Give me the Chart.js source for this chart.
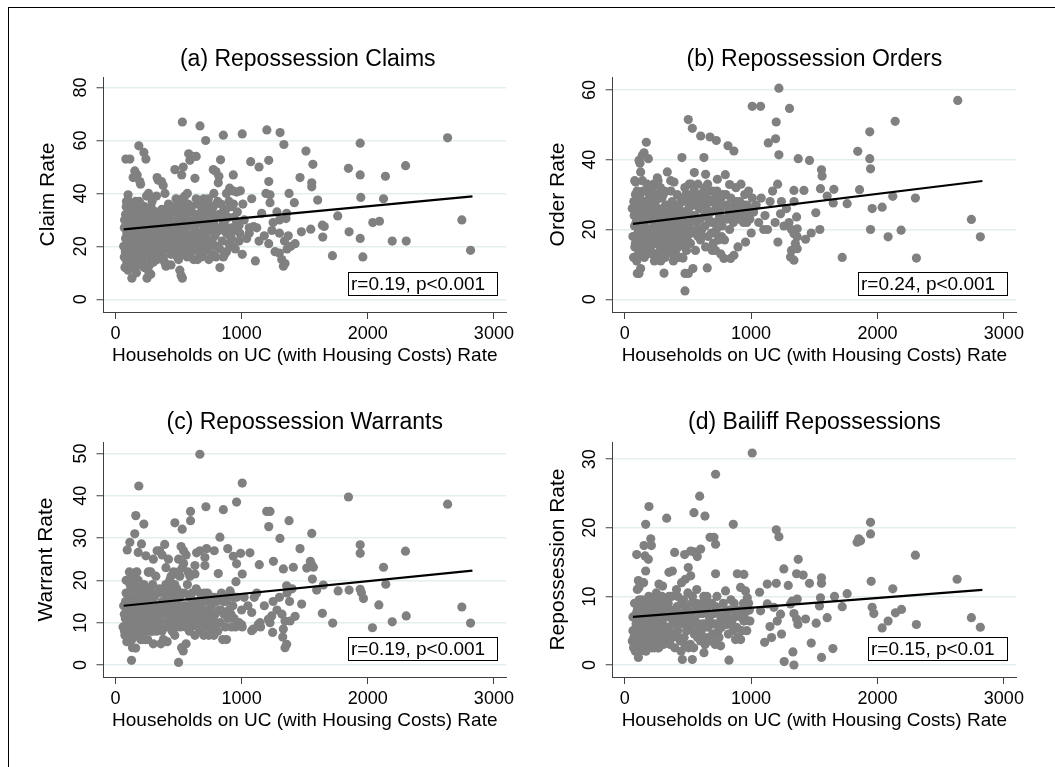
<!DOCTYPE html>
<html><head><meta charset="utf-8">
<script src="https://cdn.jsdelivr.net/npm/chart.js@4.4.0/dist/chart.umd.min.js"></script>
<style>
html,body{margin:0;padding:0;background:#fff;overflow:hidden;width:1055px;height:767px;position:relative;}
#frame{position:absolute;left:8px;top:7px;width:1200px;height:900px;border-top:1px solid #000;border-left:1px solid #000;}
canvas{position:absolute;}
</style></head><body>
<div id="frame"></div>
<canvas id="ca" width="600" height="380" style="left:8px;top:10px"></canvas>
<canvas id="cb" width="589" height="380" style="left:520px;top:10px"></canvas>
<canvas id="cc" width="600" height="380" style="left:8px;top:375px"></canvas>
<canvas id="cd" width="589" height="380" style="left:520px;top:375px"></canvas>
<script>
// ---------- data ----------
const xTicks = [0, 1000, 2000, 3000];
const claimTicks = [0, 20, 40, 60, 80];
const orderTicks = [0, 20, 40, 60];
const warrantTicks = [0, 10, 20, 30, 40, 50];
const repoTicks = [0, 10, 20, 30];

const panelTitles = ['(a) Repossession Claims', '(b) Repossession Orders', '(c) Repossession Warrants', '(d) Bailiff Repossessions'];
const yTitles = ['Claim Rate', 'Order Rate', 'Warrant Rate', 'Repossession Rate'];
const xTitle = 'Households on UC (with Housing Costs) Rate';
const stats = ['r=0.19, p<0.001', 'r=0.24, p<0.001', 'r=0.19, p<0.001', 'r=0.15, p<0.01'];

// fitted line end points (x at min / max of data)
const fitX = [65, 2830];
const claimFit = [26.4, 38.9];
const orderFit = [21.6, 33.9];
const warrantFit = [14.0, 22.3];
const repoFit = [7.0, 10.95];

const claims = [
[530,67],[670,65.5],[715,60],[855,62],[1005,62.5],[1200,64],[1305,63],[1335,58.5],[2633,61],[1940,59],
[1510,56],[1565,51],[1847,49.5],[1940,47],[2300,50.5],[2140,46.5],[1463,46],[1215,52.5],[1138,50],[1072,52],
[185,58],[225,55.5],[241,53],[82,53],[114,53],[580,55],[610,54],[640,54],[590,52.5],[537,50],
[471,49],[525,47],[630,45.7],[833,52.7],[775,49],[796,48.3],[820,46.5],[934,47],[153,48.5],[172,47],
[140,46],[193,44.5],[199,43.5],[330,46],[365,44.5],[378,43],[339,45],[815,44],[1215,44.5],[1556,44],[1556,42.5],
[100,39.5],[87,37],[114,35],[262,40],[246,39],[392,40],[325,39],[1080,38],[1193,40],[1225,39.5],
[1225,36.5],[1376,40],[1418,36.5],[1603,37.5],[1945,38.5],[2125,38],[905,42],[930,41],[960,40.5],[990,41],
[880,40],[900,37],[935,36],[1010,36],[530,38],[550,39],[570,40],[505,37],[600,35],[640,38],
[665,37],[700,38],[720,35],[740,36],[780,40],[810,37],[160,37],[200,36],[230,35],[290,37],
[420,36],[455,35],[480,38],[520,34],[150,35],[180,33],[210,34],[130,32],
[1159,32.5],[1357,32.5],[1352,30.5],[1762,31.5],[2040,29],[2093,29.5],[2746,30],[1280,33],[1300,30],[1250,29],
[1095,27.5],[1120,27],[1060,27],[940,31],[960,29],[980,28],[920,27],[1020,30],[850,33],[870,30],
[840,27],[880,25],[800,31],[760,33],[740,29],[700,31],[680,29],[720,27],[650,32],[620,30],
[600,28],[580,33],[560,31],[540,29],[520,26],[500,31],[480,28],[460,33],[440,30],[420,28],
[400,25],[380,31],[360,29],[340,26],[320,33],[300,30],[280,28],[260,26],[240,31],[220,29],
[200,27],[180,30],[160,28],[140,26],[120,30],[100,28],[80,32],[70,27],[90,25],[110,33],
[130,25],[150,31],[170,26],[190,33],[210,24],[250,33],[270,25],[310,24],[350,32],[390,27],
[430,25],[470,26],[510,33],[550,26],[590,24],[630,26],[670,24],[710,25],[750,26],[790,24],
[820,26],[1640,28],[1655,27.5],[1548,26.5],[1474,25.5],[1852,25.5],
[1940,23],[1961,16],[1720,16.5],[1643,23.5],[1424,21],[2194,22],[2305,22],[2815,18.5],[1109,14.5],[1005,17],
[1138,22],[1215,21],[1265,18],[1318,15],[1331,12.5],[1344,13.5],[1299,17.5],[1340,22],[1370,24],[1390,20],
[1360,19],[1300,25],[1240,26],[1180,24],[855,16],[880,18],[900,21],[920,23],[950,19],[980,22],
[1040,23],[1060,25],[800,20],[770,17],[740,15],[720,19],[700,21],[680,16],[660,18],[640,22],
[620,15],[600,18],[580,20],[560,23],[540,17],[520,20],[500,15],[480,18],[460,22],[440,17],
[420,20],[400,23],[380,16],[360,19],[340,22],[320,17],[300,14],[280,19],[260,22],[240,17],
[220,20],[200,23],[180,16],[160,19],[140,22],[120,17],[100,20],[80,23],[70,16],[90,18],
[110,14],[130,21],[150,15],[170,23],[190,18],[210,14],[230,21],[250,16],[270,13],[290,21],
[310,18],[330,15],[350,20],[370,23],[390,14],[410,19],[450,21],[490,16],[530,19],[570,16],
[610,20],[650,15],[690,17],[730,21],
[75,12],[100,11],[130,8],[250,8],[280,9.5],[265,10],[400,12.5],[510,11],[520,9],[530,8],
[828,12],[90,14],[160,13],[200,13],[440,13],
[65,20],[72,30],[78,18],[85,35],[92,29],[98,16],[104,24],[108,37],[116,27],[122,21],
[127,34],[134,18],[138,29],[144,12],[148,24],[156,33],[162,22],[166,10],[174,30],[178,19],
[184,26],[188,37],[196,21],[204,31],[208,17],[214,28],[218,35],[224,24],[228,12],[234,27],
[238,19],[244,34],[248,23],[256,29],[262,18],[268,32],[274,21],[282,35],[288,26],[294,17],
[302,22],[306,33],[314,28],[318,20],[324,24],[336,30],[344,18],[356,25],[368,34],[376,21],
[386,19],[396,30],[404,34],[414,24],[424,32],[436,22],[446,27],[458,19],[466,29],[476,23],
[486,34],[496,25],[506,20],[516,29],[526,23],[536,35],[546,21],[556,27],[566,18],[576,36],
[586,29],[596,22],[606,33],[616,25],[626,19],[636,28],[646,36],[656,23],[664,30],[676,20],
[686,34],[696,26],[706,18],[716,32],[726,23],[736,38],[746,20],[756,30],[766,22],[776,35],
[786,28],[796,16],[806,26],[816,32],[826,19],[836,36],[846,22],[856,29],[866,17],[876,34],
[886,27],[896,31],[906,24],[916,35],[926,20],[946,26],[966,33],[986,25]
];

const orders = [
[1220,60.5],[1009,55.3],[1075,55.3],[1304,54.7],[2635,57],[2140,51],[1199,50.8],[503,51.5],[535,49],[601,46.8],
[675,46.5],[725,45.5],[817,44],[864,42.5],[1136,44.8],[1194,46],[1220,41.4],[1373,40.3],[1462,39.8],[1939,48],
[1939,40.3],[1945,37.4],[1844,42.4],[1557,37.1],[1562,35.3],[1549,31.7],[1655,31.5],[1858,31.4],[2121,29.5],[2300,29],
[1958,26],[2037,26.4],[1760,27.4],[1650,27.6],[1602,29.6],[1512,24.8],[1544,20],[1945,20],[2084,17.9],[2187,19.8],
[2743,22.9],[2814,17.9],[2308,11.8],[1721,12],[1212,16.4],[1233,24.5],[1339,31.2],[1418,31.2],[1360,23.6],[1365,20.2],
[1339,18.8],[1365,17.9],[1431,17.2],[1312,12.1],[1339,11.2],[1320,14],[1365,14.5],[1476,19],[453,40.6],[627,40.6],
[551,36.3],[640,35.8],[733,34.4],[796,35.7],[830,32.9],[461,11.8],[477,7.4],[503,7.4],[477,2.4],[540,8.8],
[653,9],[311,7.5],[113,7.4],[100,7.4],[126,8.8],[785,11.7],[838,11.7],[864,12.6],[896,15],[956,16.4],
[1001,19],[693,14],[719,14],
[171,45],[153,42],[140,41.3],[113,39.8],[121,39],[187,40.3],[126,36.5],[140,34],[87,33.6],[79,34],
[337,36.5],[258,34.8],[264,34],[364,34],[390,33.6],[60,26],[75,24],[90,22],[100,26],[110,20],
[120,18],[130,23],[140,16],[150,28],[160,21],[170,25],[180,14],[190,19],[200,23],[210,26],
[220,17],[230,21],[240,13],[250,24],[260,18],[270,29],[280,15],[290,22],[300,20],[310,25],
[320,12],[330,18],[340,23],[350,16],[360,27],[370,20],[380,13],[390,24],[400,18],[410,21],
[420,15],[430,26],[440,19],[450,12],[460,23],[470,17],[480,20],[490,14],[500,28],[70,12],
[80,15],[95,11],[105,17],[115,13],[135,19],[155,12],[165,17],[185,27],[195,30],[205,15],
[215,32],[225,28],[235,11],[245,20],[255,30],[275,25],[285,11],[295,29],[305,14],[315,31],
[325,21],[345,27],[355,14],[365,31],[375,23],[385,11],[395,16],[405,26],[415,30],[425,12],
[435,22],[445,29],[455,18],[465,25],[475,15],[485,30],[495,21],[85,30],[125,28],[145,24],
[175,31],[300,26],[260,16],[340,19],[420,24],
[510,33],[520,30],[530,27],[540,24],[550,31],[560,28],[570,22],[580,33],[590,26],[600,30],
[610,20],[620,27],[630,24],[640,32],[650,29],[660,18],[670,31],[680,25],[690,22],[700,28],
[710,19],[720,26],[730,31],[740,17],[750,24],[760,29],[770,21],[780,27],[790,17],[800,30],
[810,23],[820,26],[830,20],[840,29],[850,24],[860,22],[870,27],[880,32],[890,25],[900,23],
[910,28],[920,33],[930,26],[940,22],[950,30],[960,24],[970,27],[980,31],[990,23],[1010,29],
[1020,25],[1040,27],[1060,22],[1080,29],[1100,20],[1110,24],[1130,20],[1150,28],[1170,31],[1190,22],
[1210,33],[1240,28],[1260,21],[1280,26],[1300,22],[1320,20],[1340,28],[1350,16],[520,16],[560,14],
[600,17],[640,15],[700,16],[760,13],[520,20],[580,18],
[65,18],[72,28],[78,21],[84,16],[92,25],[98,31],[104,19],[108,14],[116,23],[122,30],
[128,17],[134,26],[138,21],[144,31],[148,14],[156,24],[162,28],[168,13],[174,20],[178,33],
[184,23],[188,16],[196,26],[204,20],[208,29],[214,13],[218,24],[224,19],[228,33],[234,25],
[238,16],[244,28],[248,21],[256,13],[262,26],[268,22],[274,17],[282,32],[288,19],[294,24],
[302,16],[306,30],[314,22],[318,18],[324,27],[336,15],[344,25],[356,21],[368,17],[376,28],
[386,20],[396,25],[404,14],[414,27],[424,20],[436,17],[446,24],[458,28],[466,20],[476,32],
[486,25],[496,18],[506,26],[516,22],[526,33],[536,19],[546,27],[556,24],[566,30],[576,20],
[586,27],[596,23],[606,29],[616,18],[626,31],[636,21],[646,26],[656,33],[664,23],[676,28],
[686,19],[696,31],[706,22],[716,29],[726,20],[736,27],[746,23],[756,26],[766,18],[776,30],
[786,23],[806,27],[826,24],[846,26],[866,23],[886,28],[906,26],[926,24],[946,27],[966,22],[986,26]
];

const warrants = [
[669,49.8],[1005,43],[185,42.3],[1847,39.7],[2633,38],[960,38.5],[717,37.4],[855,36.7],[595,36.3],[595,34.1],
[471,33.6],[529,32.1],[161,35.3],[225,33.3],[153,31],[114,29],[93,27.2],[206,28.6],[180,26.6],[241,25.8],
[262,21.9],[159,21.9],[1199,36.3],[1225,36.3],[1215,32.7],[1376,34.1],[1304,29.9],[1556,31.1],[1463,27.5],[1252,24.5],
[1140,23.7],[1066,26.5],[992,26.4],[934,25.7],[890,27.5],[828,30.2],[815,21.6],[783,27],[722,27.5],[669,27],
[643,26.5],[709,25.4],[709,23.5],[630,23.5],[630,21.5],[960,23.9],[1005,21.5],[955,19.7],[908,17.5],[1331,22.7],
[1410,23.1],[1357,18.7],[1545,24.5],[1556,23.7],[1569,23.1],[1516,22.9],[1561,20.3],[1595,17.7],[1648,18.9],[1765,17.5],
[1852,17.7],[1940,17.9],[1950,17.1],[1966,15.7],[1940,28.4],[1940,26.4],[2125,23.1],[2143,19.1],[2299,26.9],[2088,14.2],
[2194,10.2],[2305,11.6],[2037,8.8],[1722,9.9],[1640,12.2],[2746,13.7],[2815,9.9],[1476,14.4],[1424,11.5],[1384,10.4],
[1344,10.4],[1331,8.5],[1344,4.1],[1357,4.9],[1326,6.6],[1246,7.7],[1225,10],[1212,10.8],[1238,11.6],[1146,10],
[1133,9.6],[1093,8.5],[1080,8.1],[1080,12.4],[1005,9],[127,1.1],[500,0.6],[524,4.1],[537,3.3],[135,4.1],
[60,9],[70,12],[75,7],[80,15],[85,20],[90,5.5],[95,10],[100,17],[105,13],[110,8],
[115,19],[120,11],[125,15],[130,6],[135,21],[140,13],[145,9],[150,16],[155,11],[160,18],
[165,7],[170,14],[175,12],[180,20],[185,9],[190,16],[195,13],[200,10],[205,17],[210,14],
[215,6],[220,12],[225,19],[230,15],[235,8],[240,13],[245,17],[250,11],[255,6],[260,14],
[265,10],[270,18],[275,12],[280,8],[285,15],[290,11],[295,19],[300,13],[310,17],[320,9],
[330,14],[340,12],[350,18],[360,10],[370,15],[380,6],[390,13],[400,19],[410,9],[420,16],
[430,11],[440,14],[450,8],[460,17],[470,12],[480,15],[490,9],[500,22],[510,13],[520,17],
[530,10],[540,24],[550,14],[560,11],[570,19],[580,13],[590,16],[600,9],[610,12],[620,15],
[630,7],[640,18],[650,11],[660,14],[670,17],[680,8],[690,12],[700,15],[710,10],[720,13],
[730,17],[740,7],[750,11],[760,14],[770,9],[780,16],[790,12],[800,15],[810,8],[820,13],
[830,10],[840,17],[850,6],[860,12],[870,9],[880,15],[890,11],[900,13],[910,17],[920,9],
[930,14],[940,11],[960,16],[980,10],[1000,13],[1020,16],[1050,14],[1100,16],[1120,17],[1150,9],
[1180,14],[1250,15],[1280,13],[1300,16],[1320,12],[1360,17],[1380,15],[1400,18],
[350,27],[370,26],[390,28.5],[400,23],[420,25],[440,21],[460,22],[480,21.5],[500,25],[520,28],
[540,27],[560,26],[575,22],[590,21],[530,23],[510,21],[470,19],[430,20],[280,22],[300,25],
[320,21],[330,27],[260,22],[110,22],[130,20.5],[150,21],[170,22],
[160,4],[200,6],[300,5],[360,5],[410,5.5],[470,7],[560,5],[700,7],[780,7],[880,6],[950,9],[1000,9.5],
[65,14],[72,8],[78,11],[84,17],[92,13],[98,7],[104,15],[108,10],[116,13],[122,18],
[128,9],[134,15],[138,11],[144,19],[148,7],[156,14],[162,10],[168,16],[174,9],[178,13],
[184,18],[188,11],[196,7],[204,15],[208,12],[214,18],[218,9],[224,14],[228,11],[234,17],
[238,6],[244,11],[248,15],[256,13],[262,9],[268,16],[274,10],[282,13],[288,17],[294,8],
[302,10],[306,16],[314,12],[318,14],[324,8],[336,17],[344,10],[356,13],[368,8],[376,12],
[386,17],[396,10],[404,14],[414,12],[424,18],[436,9],[446,12],[458,15],[466,10],[476,13],
[486,18],[496,11],[506,16],[516,9],[526,14],[536,12],[546,17],[556,9],[566,14],[576,11],
[586,8],[596,14],[606,17],[616,10],[626,13],[636,11],[646,15],[656,9],[664,12],[676,15],
[686,10],[696,13],[706,17],[716,9],[726,12],[736,15],[746,13],[756,9],[766,16],[776,12],
[796,10],[816,16],[836,13],[856,15],[876,12],[896,16],[916,12],[936,16]
];

const repos = [
[1009,30.9],[719,27.8],[593,24.6],[192,23.1],[548,22.2],[635,21.7],[332,21.4],[166,20.5],[859,20.5],[206,18.4],
[211,17.4],[153,17.4],[161,15.9],[187,15.4],[166,13.7],[95,16.1],[108,12.3],[113,11.3],[395,16.4],[474,16.1],
[522,16.6],[548,16.5],[574,15.8],[601,16.9],[503,14.2],[522,13],[350,13.5],[377,13.7],[271,11.8],[675,18.6],
[706,18.6],[719,17.6],[719,13.3],[891,13.3],[943,13.2],[1199,19.7],[1220,18.7],[1259,14],[1294,11.6],[1373,15.4],
[1360,13.3],[1412,13.1],[1462,11.9],[1557,12.7],[1557,11.9],[1128,11.8],[1199,11.9],[1067,10.6],[1945,20.8],[1945,19.1],
[1866,18.1],[1852,18.4],[1839,17.9],[1950,12.2],[2121,11.1],[2300,16],[2630,12.5],[1760,10.4],[1721,8.5],[1660,10],
[1602,6.9],[1549,9.8],[1541,8.6],[1958,8.4],[1971,7.5],[2037,5.4],[2084,6.4],[2142,7.6],[2190,8.1],[2308,5.9],
[2743,6.9],[2814,5.5],[1647,2.4],[1557,1.1],[1331,1.9],[1339,0],[1262,0.5],[1241,4.5],[1162,4],[1107,3.3],
[1149,5.6],[1476,3.2],[1431,6.7],[1515,6.1],[1370,5.9],[1360,6.7],[1339,7.5],[1312,8.9],[1325,9.3],[1365,9.6],
[825,0.7],[456,0.8],[535,0.8],[108,1.1],[627,1.8],[759,2.8],[943,6.4],[991,6.4],[964,7.9],[864,6.9],
[877,3.7],[917,3.7],[811,5.9],[864,5.2],[798,10.8],[917,11.3],[956,10.8],[970,9.8],[1075,7.9],[1128,8.9],
[1180,8.4],[1207,6.4],[1233,7.4],
[60,3.5],[65,5],[70,2.5],[75,7],[80,4],[85,9],[90,6],[95,3],[100,8],[105,5],
[110,2],[115,9.5],[120,4.5],[125,7],[130,3],[135,6],[140,8.5],[145,2.5],[150,5],[155,7.5],
[160,4],[165,9],[170,6],[175,3],[180,8],[185,5],[190,10],[195,3.5],[200,7],[205,5.5],
[210,9],[215,2.5],[220,6],[225,4],[230,8],[235,10],[240,5],[245,3],[250,7],[255,9.5],
[260,4.5],[265,6.5],[270,2.5],[275,9],[280,5],[285,7.5],[290,3.5],[295,10],[300,6],[310,8],
[320,4],[330,9],[340,5.5],[350,7],[360,3],[370,10],[380,6],[390,4.5],[400,8],[410,11],
[420,5],[430,7.5],[440,3.5],[450,9],[460,6],[470,4],[480,8.5],[490,5],[500,10.5],[510,7],
[520,3],[530,9],[540,6],[550,4.5],[560,8],[570,11],[580,5],[590,7.5],[600,3.5],[610,9],
[620,6],[630,4],[640,8],[650,10],[660,5.5],[670,7],[680,3.5],[690,9],[700,6],[710,4.5],
[720,8.5],[730,10],[740,5],[760,7],[780,9],[800,8],[820,4.5],[840,9.5],[860,5],[880,8],
[900,4],[920,7],[940,9],[960,6.5],[980,9],
[100,11],[150,12],[250,10.5],[300,11.5],[350,10],[450,12],[420,10],[480,12.5],
[65,7],[72,4],[78,9],[84,2],[92,7.5],[98,5.5],[104,3.5],[108,9],[116,6],[122,2],
[128,8],[134,4.5],[138,9.5],[144,6],[148,3.5],[156,8.5],[162,5.5],[168,2],[174,7],[178,9.5],
[184,3],[188,6.5],[196,8],[204,4],[208,6],[214,8],[218,3.5],[224,7.5],[228,5.5],[234,2.5],
[238,9],[244,6],[248,4],[256,8],[262,2.5],[268,9],[274,5],[282,7],[288,3],[294,6],
[302,8.5],[306,3],[314,5],[318,9.5],[324,7],[336,3.5],[344,9],[356,5],[368,8],[376,4],
[386,7],[396,2.5],[404,6],[414,8.5],[424,4],[436,6.5],[446,2],[458,7.5],[466,9.5],[476,3],
[486,6.5],[496,8],[506,2.5],[516,5.5],[526,7.5],[536,10],[546,2.5],[556,6.5],[566,9],[576,4],
[586,6],[596,8.5],[606,5],[616,7.5],[626,10],[636,3],[646,6],[656,8.5],[664,4],[676,9],
[686,6],[696,4.5],[706,7.5],[716,3],[726,6],[736,8],[746,4],[766,5.5],[786,6.5],[806,7],
[826,8],[846,6],[866,9],[886,5.5],[906,8],[926,5],[946,7],[966,5],[986,8]
];

// ---------- rendering ----------
const FONT = '"Liberation Sans", Arial, Helvetica, sans-serif';
Chart.defaults.font.family = FONT;
Chart.defaults.color = '#000';

const statBox = {
  id: 'statBox',
  afterDatasetsDraw(chart, args, opts) {
    const {ctx, chartArea} = chart;
    ctx.save();
    ctx.font = '19px ' + FONT;
    const tw = ctx.measureText(opts.text).width;
    const w = Math.round(tw + 15), h = 23;
    const right = Math.round(chartArea.right - 9);
    const bottom = Math.round(chartArea.bottom - 17.5);
    const left = right - w, top = bottom - h;
    ctx.fillStyle = '#fff';
    ctx.fillRect(left, top, w, h);
    ctx.strokeStyle = '#000';
    ctx.lineWidth = 1;
    ctx.strokeRect(left + 0.5, top + 0.5, w, h);
    ctx.fillStyle = '#000';
    ctx.textBaseline = 'middle';
    ctx.textAlign = 'left';
    ctx.fillText(opts.text, left + 3, top + h / 2 + 1.5);
    ctx.restore();
  }
};

// panel title centred over the plot region
const panelTitle = {
  id: 'panelTitle',
  afterDraw(chart, args, opts) {
    const {ctx, chartArea} = chart;
    ctx.save();
    ctx.font = '23px ' + FONT;
    ctx.fillStyle = '#000';
    ctx.textAlign = 'center';
    ctx.textBaseline = 'middle';
    ctx.fillText(opts.text, (chartArea.left + chartArea.right) / 2 + opts.dx, opts.y);
    ctx.restore();
  }
};

const AXIS = '#404040';
const panels = [
  {id: 'ca', pts: claims, fit: claimFit, yt: claimTicks, ymin: -4.8, ymax: 84.0, pl: 27.4, W: 68.1, pr: 102, dx: 3, ty: 49.5},
  {id: 'cb', pts: orders, fit: orderFit, yt: orderTicks, ymin: -3.64, ymax: 63.7, pl: 25.4, W: 67.3, pr: 93, dx: 0, ty: 49.5},
  {id: 'cc', pts: warrants, fit: warrantFit, yt: warrantTicks, ymin: -2.84, ymax: 52.7, pl: 25.4, W: 70.1, pr: 102, dx: 0, ty: 48},
  {id: 'cd', pts: repos, fit: repoFit, yt: repoTicks, ymin: -1.75, ymax: 32.5, pl: 25.4, W: 67.3, pr: 93, dx: 0, ty: 48}
];

panels.forEach((p, i) => {
  new Chart(document.getElementById(p.id), {
    type: 'scatter',
    data: {
      datasets: [
        {
          type: 'scatter', showLine: true, order: 0,
          data: fitX.map((x, k) => ({x, y: p.fit[k]})),
          borderColor: '#000', borderWidth: 2.2, pointRadius: 0, fill: false
        },
        {
          type: 'scatter', order: 1,
          data: p.pts.map(d => ({x: d[0], y: d[1]})),
          backgroundColor: '#808080', borderWidth: 0, pointRadius: 4.6, pointHoverRadius: 4.6
        }
      ]
    },
    options: {
      responsive: false,
      animation: false,
      events: [],
      layout: {padding: {left: p.pl, right: p.pr, top: 67, bottom: 22.6}},
      plugins: {
        legend: {display: false},
        tooltip: {enabled: false},
        title: {display: false},
        statBox: {text: stats[i]},
        panelTitle: {text: panelTitles[i], dx: p.dx, y: p.ty}
      },
      scales: {
        x: {
          type: 'linear', min: -95, max: 3096,
          afterBuildTicks: s => { s.ticks = xTicks.map(v => ({value: v})); },
          afterFit: s => { s.height = 55.4; },
          grid: {display: true, drawOnChartArea: false, drawTicks: true, tickLength: 7, tickColor: AXIS, tickWidth: 1},
          border: {display: true, color: AXIS, width: 1},
          ticks: {font: {size: 18}, color: '#000', padding: 4.7, maxRotation: 0, minRotation: 0, autoSkip: false,
                  callback: v => String(v)},
          title: {display: true, text: xTitle, color: '#000', font: {size: 19}, padding: {top: 0, bottom: 0}}
        },
        y: {
          type: 'linear', min: p.ymin, max: p.ymax,
          afterBuildTicks: s => { s.ticks = p.yt.map(v => ({value: v})); },
          afterFit: s => { s.width = p.W; },
          grid: {display: true, drawOnChartArea: true, color: '#e4eef0', lineWidth: 1.5, drawTicks: true, tickLength: 7, tickColor: AXIS, tickWidth: 1},
          border: {display: true, color: AXIS, width: 1},
          ticks: {font: {size: 18}, color: '#000', padding: 5.5, minRotation: 90, maxRotation: 90, crossAlign: 'center', autoSkip: false,
                  callback: v => String(v)},
          title: {display: true, text: yTitles[i], color: '#000', font: {size: 21}, padding: {top: 0, bottom: 0}}
        }
      }
    },
    plugins: [statBox, panelTitle]
  });
});
</script>
</body></html>
